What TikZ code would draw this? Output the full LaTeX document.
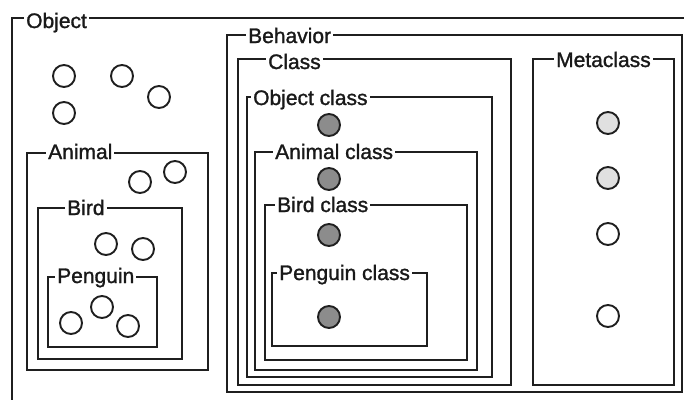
\documentclass[tikz,border=0pt]{standalone}
\usepackage{fontspec}
\setmainfont{Liberation Sans}
\newfontfamily\lblfont[FakeBold=1.3]{Liberation Sans}
\begin{document}
\begin{tikzpicture}[x=1pt,y=-1pt,
  box/.style={draw=black!88,line width=2.3pt},
  lbl/.style={anchor=base west,fill=white,inner xsep=2pt,inner ysep=1pt,font=\lblfont\fontsize{21}{21}\selectfont,text=black!90},
  obj/.style={circle,draw=black!88,line width=1.9pt,fill=white,minimum size=22pt,inner sep=0pt},
  cls/.style={obj,fill=black!45},
  meta/.style={obj,fill=black!12}]
\useasboundingbox (0,0) rectangle (684,399);
\clip (0,0) rectangle (684,399);
% Object box (cut by picture edges)
\draw[box] (690,18) -- (12,18) -- (12,405);
\node[lbl] (lobject) at (24,28) {Object};
\node[obj] (o1) at (64,76) {};
\node[obj] (o2) at (122,76) {};
\node[obj] (o3) at (159,97) {};
\node[obj] (o4) at (64,113) {};
% Animal
\draw[box] (27,153) rectangle (208,370);
\node[lbl] (lanimal) at (46,159) {Animal};
\node[obj] (a1) at (140,182) {};
\node[obj] (a2) at (175,172) {};
% Bird
\draw[box] (38,208) rectangle (182,359);
\node[lbl] (lbird) at (65,215) {Bird};
\node[obj] (b1) at (106,244) {};
\node[obj] (b2) at (143,249) {};
% Penguin
\draw[box] (48,277) rectangle (157,347);
\node[lbl] (lpenguin) at (55,283) {Penguin};
\node[obj] (p1) at (71,323) {};
\node[obj] (p2) at (102,307) {};
\node[obj] (p3) at (128,326) {};
% Behavior
\draw[box] (227,35) rectangle (682,392);
\node[lbl] (lbehavior) at (246,43) {Behavior};
% Class
\draw[box] (238,59) rectangle (511,385);
\node[lbl] (lclass) at (266,69) {Class};
% Object class
\draw[box] (247,97) rectangle (492,377);
\node[lbl] (lobjcls) at (251,105) {Object class};
\node[cls] (c1) at (329,125) {};
% Animal class
\draw[box] (255,152) rectangle (477,370);
\node[lbl] (lanimcls) at (273,159) {Animal class};
\node[cls] (c2) at (329,179) {};
% Bird class
\draw[box] (265,205) rectangle (467,360);
\node[lbl] (lbirdcls) at (275,212) {Bird class};
\node[cls] (c3) at (329,235) {};
% Penguin class
\draw[box] (272,273) rectangle (427,346);
\node[lbl] (lpengcls) at (277,280) {Penguin class};
\node[cls] (c4) at (329,317) {};
% Metaclass
\draw[box] (533,59) rectangle (674,385);
\node[lbl] (lmeta) at (554,67) {Metaclass};
\node[meta] (m1) at (608,123) {};
\node[meta] (m2) at (608,178) {};
\node[obj] (m3) at (608,234) {};
\node[obj] (m4) at (608,316) {};
\end{tikzpicture}
\end{document}
